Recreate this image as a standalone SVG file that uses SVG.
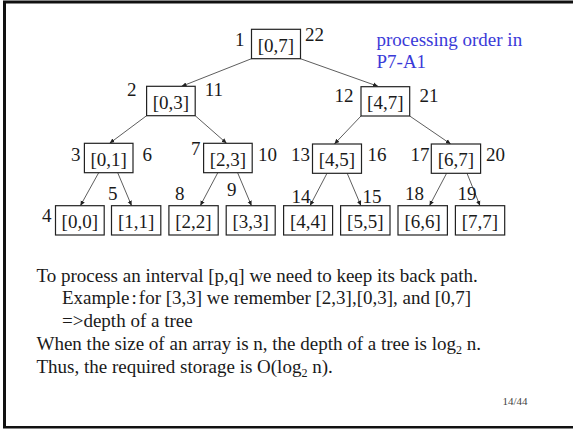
<svg xmlns="http://www.w3.org/2000/svg" width="573" height="430" viewBox="0 0 573 430">
<defs>
<marker id="ah" markerWidth="6" markerHeight="6" refX="5" refY="3" orient="auto" markerUnits="userSpaceOnUse">
<path d="M0,0.8 L5,3 L0,5.2 Z" fill="#222"/>
</marker>
<style>
text{font-family:"Liberation Serif","Times New Roman",serif;fill:#1a1a1a}
.t{font-size:19px}
.c{text-anchor:middle}
.b{fill:#fff;stroke:#222;stroke-width:1.2}
.e{stroke:#333;stroke-width:0.8;fill:none;marker-end:url(#ah)}
.blue{fill:#3a3ad8}
</style>
</defs>
<rect x="0" y="0" width="573" height="430" fill="#fff"/>
<path d="M4.5,428 V2 H580" fill="none" stroke="#111" stroke-width="3"/>
<path d="M3,427.3 H573" fill="none" stroke="#111" stroke-width="2.5"/>

<g id="connectors">
<line class="e" x1="251.5" y1="58.7" x2="181.6" y2="86.3"/>
<line class="e" x1="300.4" y1="58.7" x2="378" y2="86.3"/>
<line class="e" x1="146.6" y1="115.7" x2="109.6" y2="143.3"/>
<line class="e" x1="195.2" y1="115.7" x2="226.6" y2="143.3"/>
<line class="e" x1="361" y1="116" x2="334.4" y2="144"/>
<line class="e" x1="409.7" y1="116" x2="450.7" y2="144"/>
<line class="e" x1="98.7" y1="172.7" x2="80.4" y2="205.7"/>
<line class="e" x1="117.7" y1="172.7" x2="131.6" y2="205.7"/>
<line class="e" x1="217.8" y1="172.7" x2="200.3" y2="205.7"/>
<line class="e" x1="237.6" y1="172.7" x2="251.5" y2="205.7"/>
<line class="e" x1="327" y1="173.3" x2="310" y2="205.7"/>
<line class="e" x1="347.2" y1="173.3" x2="361" y2="205.7"/>
<line class="e" x1="446.6" y1="173.3" x2="429.5" y2="205.7"/>
<line class="e" x1="467" y1="173.3" x2="480" y2="205.7"/>
</g>

<g id="n07"><rect class="b" x="251.5" y="29.3" width="49" height="29.4"/><text class="t c" x="276" y="51.5">[0,7]</text></g>
<g id="n03"><rect class="b" x="146.6" y="86.3" width="48.6" height="29.4"/><text class="t c" x="171" y="108.5">[0,3]</text></g>
<g id="n47"><rect class="b" x="361" y="86.7" width="48.7" height="29.3"/><text class="t c" x="385.3" y="109">[4,7]</text></g>
<g id="n01"><rect class="b" x="84.4" y="143.3" width="48.6" height="29.4"/><text class="t c" x="108.7" y="165.5">[0,1]</text></g>
<g id="n23"><rect class="b" x="203.6" y="143.3" width="48.6" height="29.4"/><text class="t c" x="227.9" y="165.5">[2,3]</text></g>
<g id="n45"><rect class="b" x="312.5" y="144" width="49" height="29.3"/><text class="t c" x="337" y="166">[4,5]</text></g>
<g id="n67"><rect class="b" x="431.3" y="144" width="49.3" height="29.3"/><text class="t c" x="456" y="166">[6,7]</text></g>
<g id="n00"><rect class="b" x="55.5" y="205.7" width="48.7" height="29.3"/><text class="t c" x="79.8" y="228">[0,0]</text></g>
<g id="n11"><rect class="b" x="111.5" y="205.7" width="49.3" height="29.3"/><text class="t c" x="136.2" y="228">[1,1]</text></g>
<g id="n22"><rect class="b" x="168.9" y="205.7" width="49.3" height="29.3"/><text class="t c" x="193.5" y="228">[2,2]</text></g>
<g id="n33"><rect class="b" x="226.2" y="205.7" width="49" height="29.3"/><text class="t c" x="250.7" y="228">[3,3]</text></g>
<g id="n44"><rect class="b" x="283.6" y="205.7" width="49" height="29.3"/><text class="t c" x="308.1" y="228">[4,4]</text></g>
<g id="n55"><rect class="b" x="340.6" y="205.7" width="49.4" height="29.3"/><text class="t c" x="365.3" y="228">[5,5]</text></g>
<g id="n66"><rect class="b" x="398" y="205.7" width="49.4" height="29.3"/><text class="t c" x="422.7" y="228">[6,6]</text></g>
<g id="n77"><rect class="b" x="455.4" y="205.7" width="49.3" height="29.3"/><text class="t c" x="480" y="228">[7,7]</text></g>

<g id="order-labels" class="t">
<text class="t" x="235" y="46">1</text>
<text class="t" x="305" y="41">22</text>
<text class="t" x="127" y="95.7">2</text>
<text class="t" x="204.7" y="95.7">11</text>
<text class="t" x="334.5" y="102.3">12</text>
<text class="t" x="419.6" y="102.3">21</text>
<text class="t" x="71" y="160.7">3</text>
<text class="t" x="142.5" y="160.7">6</text>
<text class="t" x="191" y="155.3">7</text>
<text class="t" x="258" y="160.7">10</text>
<text class="t" x="291" y="160.7">13</text>
<text class="t" x="367.5" y="160.7">16</text>
<text class="t" x="410.5" y="160.7">17</text>
<text class="t" x="486" y="160.7">20</text>
<text class="t" x="42" y="221.7">4</text>
<text class="t" x="108" y="200">5</text>
<text class="t" x="175" y="200">8</text>
<text class="t" x="227" y="196">9</text>
<text class="t" x="291.5" y="203">14</text>
<text class="t" x="362.5" y="203">15</text>
<text class="t" x="405" y="200">18</text>
<text class="t" x="457.5" y="200">19</text>
</g>

<g id="note">
<text class="t blue" x="376.5" y="45.7">processing order in</text>
<text class="t blue" x="376.5" y="68">P7-A1</text>
</g>

<g id="body">
<text class="t" x="36.5" y="281.7">To process an interval [p,q] we need to keep its back path.</text>
<text class="t" x="62" y="304">Example<tspan dx="2">:</tspan><tspan dx="2">for [3,3] we remember [2,3],[0,3], and [0,7]</tspan></text>
<text class="t" x="62" y="326.7">=&gt;depth of a tree</text>
<text class="t" x="36.5" y="350">When the size of an array is n, the depth of a tree is log<tspan font-size="12" dy="4">2</tspan><tspan dy="-4"> n.</tspan></text>
<text class="t" x="36.5" y="373.3">Thus, the required storage is O(log<tspan font-size="12" dy="4">2</tspan><tspan dy="-4"> n).</tspan></text>
<text x="502.5" y="405" style="font-size:11px;fill:#444">14/44</text>
</g>
</svg>
